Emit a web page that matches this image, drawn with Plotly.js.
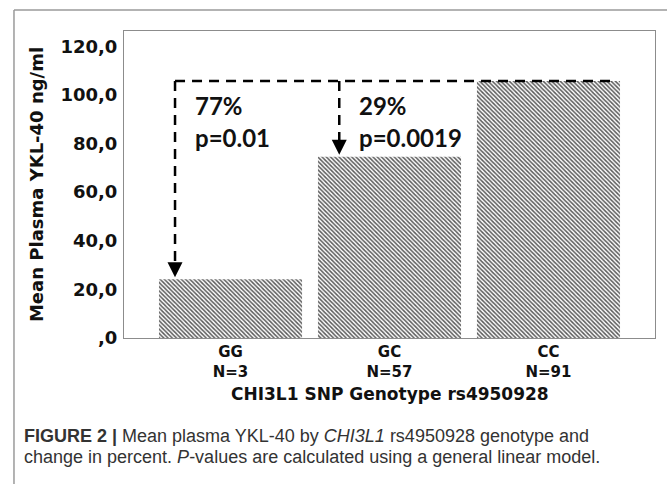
<!DOCTYPE html>
<html>
<head>
<meta charset="utf-8">
<script src="https://cdn.plot.ly/plotly-3.0.1.min.js"></script>
<style>
html,body{margin:0;padding:0;background:#fff;}
#chart{width:667px;height:484px;}
</style>
</head>
<body>
<div id="chart"></div>
<script>
// ---- data ----
var genotypes = ["GG", "GC", "CC"];
var sampleSizes = [3, 57, 91];
var meanYKL40 = [24.2, 74.6, 105.7];
var yTickValues = [0, 20, 40, 60, 80, 100, 120];
var yTickLabels = [",0", "20,0", "40,0", "60,0", "80,0", "100,0", "120,0"];
var percentChanges = ["77%", "29%"];
var pValues = ["p=0.01", "p=0.0019"];
var xTitle = "CHI3L1 SNP Genotype rs4950928";
var yTitle = "Mean Plasma YKL-40 ng/ml";

var xTickText = genotypes.map(function (g, i) { return g + "<br>N=" + sampleSizes[i]; });

var boldFont = "DejaVu Sans, Arial, sans-serif";
var calFont = "Lato, Carlito, sans-serif";

var trace = {
  type: "bar",
  x: [0, 1, 2],
  y: meanYKL40,
  width: 0.9,
  marker: {
    color: "#ffffff",
    line: {width: 0},
    pattern: {shape: "\\", size: 3, solidity: 0.5, fgcolor: "#5a5a5a", bgcolor: "#ffffff"}
  },
  hoverinfo: "skip"
};

var cc = meanYKL40[2];
var xL = -0.349, xM = 0.684, xR = 2.42;
var dash = {color: "#000", width: 2.5, dash: "10px,7px"};
var headLen = 6.2; // data units of arrowhead height

var shapes = [
  {type: "line", xref: "x", yref: "y", x0: xL, x1: xR, y0: cc, y1: cc, line: dash},
  {type: "line", xref: "x", yref: "y", x0: xL, x1: xL, y0: cc, y1: meanYKL40[0] + headLen, line: dash},
  {type: "line", xref: "x", yref: "y", x0: xM, x1: xM, y0: cc, y1: meanYKL40[1] + headLen, line: dash},
  // outer frame
  {type: "line", xref: "paper", yref: "paper", x0: -0.2072, x1: 1.03, y0: 1.0684, y1: 1.0684, line: {color: "#9a9a9a", width: 1.5}},
  {type: "line", xref: "paper", yref: "paper", x0: -0.2072, x1: -0.2072, y0: 1.0684, y1: -0.48, line: {color: "#9a9a9a", width: 1.5}}
];

var txtFont = {family: calFont, size: 24, color: "#111", weight: "bold"};
var annotations = [
  {x: xL, y: meanYKL40[0], xref: "x", yref: "y", ax: 0, ay: -16, text: "", showarrow: true,
   arrowhead: 2, arrowsize: 1.5, arrowwidth: 2, arrowcolor: "#000", standoff: 2},
  {x: xM, y: meanYKL40[1], xref: "x", yref: "y", ax: 0, ay: -16, text: "", showarrow: true,
   arrowhead: 2, arrowsize: 1.5, arrowwidth: 2, arrowcolor: "#000", standoff: 2},
  {x: -0.238, y: 95.5, xref: "x", yref: "y", text: percentChanges[0], showarrow: false, xanchor: "left", yanchor: "middle", font: txtFont},
  {x: -0.238, y: 82.5, xref: "x", yref: "y", text: pValues[0], showarrow: false, xanchor: "left", yanchor: "middle", font: txtFont},
  {x: 0.794, y: 95.5, xref: "x", yref: "y", text: percentChanges[1], showarrow: false, xanchor: "left", yanchor: "middle", font: txtFont},
  {x: 0.794, y: 82.5, xref: "x", yref: "y", text: pValues[1], showarrow: false, xanchor: "left", yanchor: "middle", font: txtFont},
  // x axis title
  {xref: "paper", yref: "paper", x: 0.5, y: -0.184, xanchor: "center", yanchor: "middle", showarrow: false,
   text: xTitle, font: {family: boldFont, size: 17, color: "#111", weight: "bold"}},
  // caption
  {xref: "paper", yref: "paper", x: -0.192, y: -0.318, xanchor: "left", yanchor: "middle", showarrow: false, align: "left",
   text: "<b>FIGURE 2 |</b> Mean plasma YKL-40 by <i>CHI3L1</i> rs4950928 genotype and",
   font: {family: "Liberation Sans Narrow, Arial Narrow, sans-serif", size: 18, color: "#333"}},
  {xref: "paper", yref: "paper", x: -0.192, y: -0.386, xanchor: "left", yanchor: "middle", showarrow: false, align: "left",
   text: "change in percent. <i>P</i>-values are calculated using a general linear model.",
   font: {family: "Liberation Sans Narrow, Arial Narrow, sans-serif", size: 18, color: "#333"}}
];

var layout = {
  width: 667, height: 484,
  margin: {l: 124, r: 12, t: 31, b: 146, pad: 0},
  paper_bgcolor: "#fff", plot_bgcolor: "#fff",
  showlegend: false,
  xaxis: {
    range: [-0.67, 2.67],
    tickvals: [0, 1, 2], ticktext: xTickText,
    ticks: "", showgrid: false, zeroline: false,
    showline: true, mirror: true, linecolor: "#8c8c8c", linewidth: 1,
    ticklabelstandoff: 0,
    tickfont: {family: boldFont, size: 15, color: "#111", weight: "bold"},
    automargin: false, fixedrange: true
  },
  yaxis: {
    range: [0, 126.3],
    tickvals: yTickValues, ticktext: yTickLabels,
    ticks: "", showgrid: false, zeroline: false,
    showline: true, mirror: true, linecolor: "#8c8c8c", linewidth: 1,
    ticklabelshift: 4.5, ticklabelstandoff: 2,
    tickfont: {family: boldFont, size: 18, color: "#111", weight: "bold"},
    title: {text: yTitle, standoff: 12,
            font: {family: boldFont, size: 18, color: "#111", weight: "bold"}},
    automargin: false, fixedrange: true
  },
  shapes: shapes,
  annotations: annotations
};

Plotly.newPlot("chart", [trace], layout, {displayModeBar: false, staticPlot: true});
</script>
</body>
</html>
